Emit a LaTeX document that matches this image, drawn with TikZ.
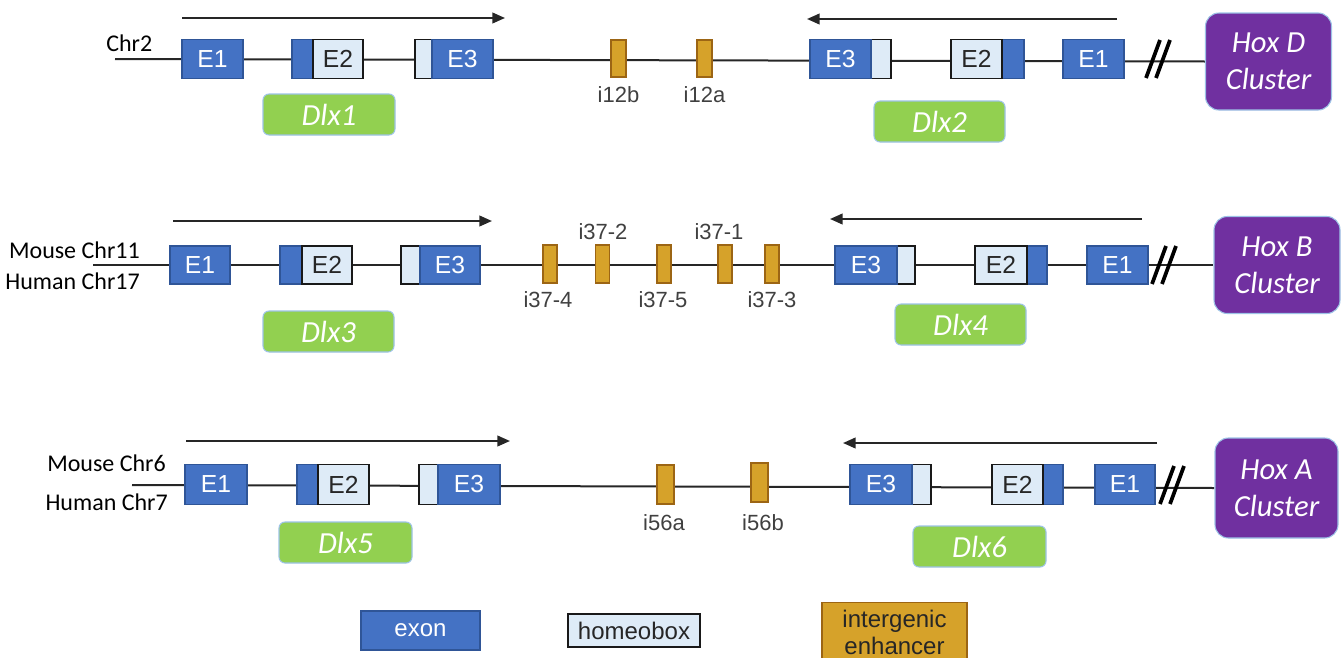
\documentclass[tikz,border=0pt]{standalone}
\usepackage{fontspec}
\setmainfont{Carlito}
\newfontfamily\arialf{Liberation Sans}
\usetikzlibrary{arrows.meta,backgrounds}
\definecolor{exonc}{HTML}{4472C4}
\definecolor{exonb}{HTML}{2F5597}
\definecolor{hboxc}{HTML}{DEEBF7}
\definecolor{enhc}{HTML}{D6A22A}
\definecolor{enhb}{HTML}{9C6514}
\definecolor{dlxc}{HTML}{92D050}
\definecolor{dlxb}{HTML}{9DC3E6}
\definecolor{hoxc}{HTML}{7030A0}
\definecolor{labc}{HTML}{404040}
\begin{document}
\begin{tikzpicture}[x=0.75pt,y=-0.75pt,
 bw/.style={minimum width=#1*0.75pt},
 bh/.style={minimum height=#1*0.75pt},
 exon/.style={draw=exonb, fill=exonc, line width=1pt, inner sep=0pt, text=white, font=\arialf\fontsize{18.5}{20}\selectfont, bh=39},
 hbox/.style={draw=black!90, fill=hboxc, line width=1.1pt, inner sep=0pt, text=black!85, font=\arialf\fontsize{18.5}{20}\selectfont, bh=39},
 enh/.style={draw=enhb, fill=enhc, line width=0.8pt, inner sep=0pt, bw=15, bh=37},
 elab/.style={text=labc, font=\arialf\fontsize{16.5}{18}\selectfont, inner sep=0pt},
 dlx/.style={draw=dlxb, fill=dlxc, line width=0.8pt, rounded corners=4.5pt, text=white, font=\itshape\fontsize{23}{26}\selectfont, bw=132, bh=41},
 hox/.style={draw=dlxb, fill=hoxc, line width=0.8pt, rounded corners=10pt, text=white, font=\itshape\fontsize{23}{28}\selectfont, align=center, bw=126, bh=97},
 chr/.style={font=\fontsize{18}{20}\selectfont, text=black, inner sep=0pt},
 gene/.style={line width=1.5pt, black!85},
 dir/.style={line width=1.5pt, black!85, -{Triangle[length=9.5pt,width=8pt]}},
 brk/.style={line width=2.8pt, black},
 lgtext/.style={font=\arialf\fontsize{18}{20}\selectfont},
]
\useasboundingbox (0,0) rectangle (1342,657);

% ---------------- Row 1 : Dlx1 / Dlx2 ----------------
\coordinate (r1s) at (115,59);
\node[exon, bw=61] (r1e1) at (212.5,59) {E1};
\node[exon, bw=71] (r1e2b) at (327.5,59) {};
\node[hbox, bw=50] (r1e2) at (338,59) {E2};
\node[hbox, bw=78] (r1e3h) at (454,59) {};
\node[exon, bw=61] (r1e3) at (462.5,59) {E3};
\node[enh] (i12b) at (618.5,58.5) {};
\node[enh] (i12a) at (704.5,58.5) {};
\node[elab] (li12b) at (618.5,95) {i12b};
\node[elab] (li12a) at (704.5,95) {i12a};
\node[hbox, bw=81] (r1f3h) at (850.5,59) {};
\node[exon, bw=61] (r1f3) at (840.5,59) {E3};
\node[exon, bw=73] (r1f2b) at (987.5,59) {};
\node[hbox, bw=51] (r1f2) at (976.5,59) {E2};
\node[exon, bw=61] (r1f1) at (1093.5,59) {E1};
\node[hox] (hoxD) at (1268.5,61.5) {Hox D\\Cluster};
\node[dlx] (dlx1) at (329,114.5) {Dlx1};
\node[dlx, bw=131] (dlx2) at (939.5,121.5) {Dlx2};
\node[chr, anchor=west] (chr2) at (106,43) {Chr2};
\coordinate (a1s) at (182,18); \coordinate (a1e) at (505,18);
\coordinate (a2s) at (1117,19); \coordinate (a2e) at (807,19);
\draw[dir] (a1s) -- (a1e);
\draw[dir] (a2s) -- (a2e);
\begin{scope}[on background layer]
\draw[gene] (r1s) -- (hoxD.west);
\end{scope}
\draw[brk] (1146,78) -- (1160,40);
\draw[brk] (1156,78) -- (1170,40);

% ---------------- Row 2 : Dlx3 / Dlx4 ----------------
\coordinate (r2s) at (93,265);
\node[exon, bw=60, bh=38] (r2e1) at (200,265) {E1};
\node[exon, bw=72, bh=38] (r2e2b) at (316,265) {};
\node[hbox, bw=50, bh=38] (r2e2) at (327,265) {E2};
\node[hbox, bw=79, bh=38] (r2e3h) at (440.5,265) {};
\node[exon, bw=60, bh=38] (r2e3) at (450,265) {E3};
\node[enh, bw=14, bh=38] (i374) at (550,264) {};
\node[enh, bw=14, bh=38] (i372) at (602.5,264) {};
\node[enh, bw=14, bh=38] (i375) at (664,264) {};
\node[enh, bw=14, bh=38] (i371) at (725,264) {};
\node[enh, bw=14, bh=38] (i373) at (772,264) {};
\node[elab] (li372) at (603,232) {i37-2};
\node[elab] (li371) at (719,232) {i37-1};
\node[elab] (li374) at (548,300) {i37-4};
\node[elab] (li375) at (663,300) {i37-5};
\node[elab] (li373) at (772,300) {i37-3};
\node[hbox, bw=80, bh=38] (r2f3h) at (875,265) {};
\node[exon, bw=62, bh=38] (r2f3) at (866,265) {E3};
\node[exon, bw=72, bh=38] (r2f2b) at (1011,265) {};
\node[hbox, bw=52, bh=38] (r2f2) at (1001,265) {E2};
\node[exon, bw=61, bh=38] (r2f1) at (1117.5,265) {E1};
\node[hox] (hoxB) at (1277,265) {Hox B\\Cluster};
\node[dlx, bw=131] (dlx3) at (328.5,331.5) {Dlx3};
\node[dlx, bw=131] (dlx4) at (960.5,324.5) {Dlx4};
\node[chr, anchor=east] (m11) at (140,250) {Mouse Chr11};
\node[chr, anchor=east] (h17) at (140,281) {Human Chr17};
\coordinate (b1s) at (173,221); \coordinate (b1e) at (492,221);
\coordinate (b2s) at (1142,219); \coordinate (b2e) at (830,219);
\draw[dir] (b1s) -- (b1e);
\draw[dir] (b2s) -- (b2e);
\begin{scope}[on background layer]
\draw[gene] (r2s) -- (hoxB.west);
\end{scope}
\draw[brk] (1152,284) -- (1166,246);
\draw[brk] (1162,284) -- (1176,246);

% ---------------- Row 3 : Dlx5 / Dlx6 ----------------
\coordinate (r3s) at (132,485);
\node[exon, bw=62, bh=40] (r3e1) at (216,484.5) {E1};
\node[exon, bw=72, bh=40] (r3e2b) at (333,484.5) {};
\node[hbox, bw=51, bh=40] (r3e2) at (343.5,484.5) {E2};
\node[hbox, bw=81, bh=40] (r3e3h) at (459.5,484.5) {};
\node[exon, bw=62, bh=40] (r3e3) at (469,484.5) {E3};
\node[enh, bw=17, bh=39] (i56a) at (665.5,484.5) {};
\node[enh, bw=17, bh=39] (i56b) at (759.5,482.5) {};
\node[elab] (li56a) at (664,523) {i56a};
\node[elab] (li56b) at (763,523) {i56b};
\node[hbox, bw=81, bh=40] (r3f3h) at (890.5,484.5) {};
\node[exon, bw=62, bh=40] (r3f3) at (881,484.5) {E3};
\node[exon, bw=71, bh=40] (r3f2b) at (1027.5,484.5) {};
\node[hbox, bw=51, bh=40] (r3f2) at (1017.5,484.5) {E2};
\node[exon, bw=60, bh=40] (r3f1) at (1125,484.5) {E1};
\node[hox, bw=123, bh=100] (hoxA) at (1276.5,488) {Hox A\\Cluster};
\node[dlx, bw=133] (dlx5) at (345.5,542.5) {Dlx5};
\node[dlx, bw=133] (dlx6) at (979.5,546.5) {Dlx6};
\node[chr, anchor=east] (m6) at (166,463) {Mouse Chr6};
\node[chr, anchor=east] (h7) at (168,502) {Human Chr7};
\coordinate (c1s) at (186,441); \coordinate (c1e) at (510,441);
\coordinate (c2s) at (1157,443); \coordinate (c2e) at (843,443);
\draw[dir] (c1s) -- (c1e);
\draw[dir] (c2s) -- (c2e);
\begin{scope}[on background layer]
\draw[gene] (r3s) -- (hoxA.west);
\end{scope}
\draw[brk] (1160,504) -- (1174,466);
\draw[brk] (1170,504) -- (1184,466);

% ---------------- Legend ----------------
\node[exon, bw=119, lgtext] (lgexon) at (420.5,630.5) {exon};
\node[hbox, bw=132, bh=33, lgtext, text=black!85] (lghbox) at (634,630.5) {homeobox};
\node[enh, bw=145, bh=60, lgtext, align=center, text=black!85, anchor=north] (lgenh) at (894.5,602) {intergenic\\enhancer};
\end{tikzpicture}
\end{document}
